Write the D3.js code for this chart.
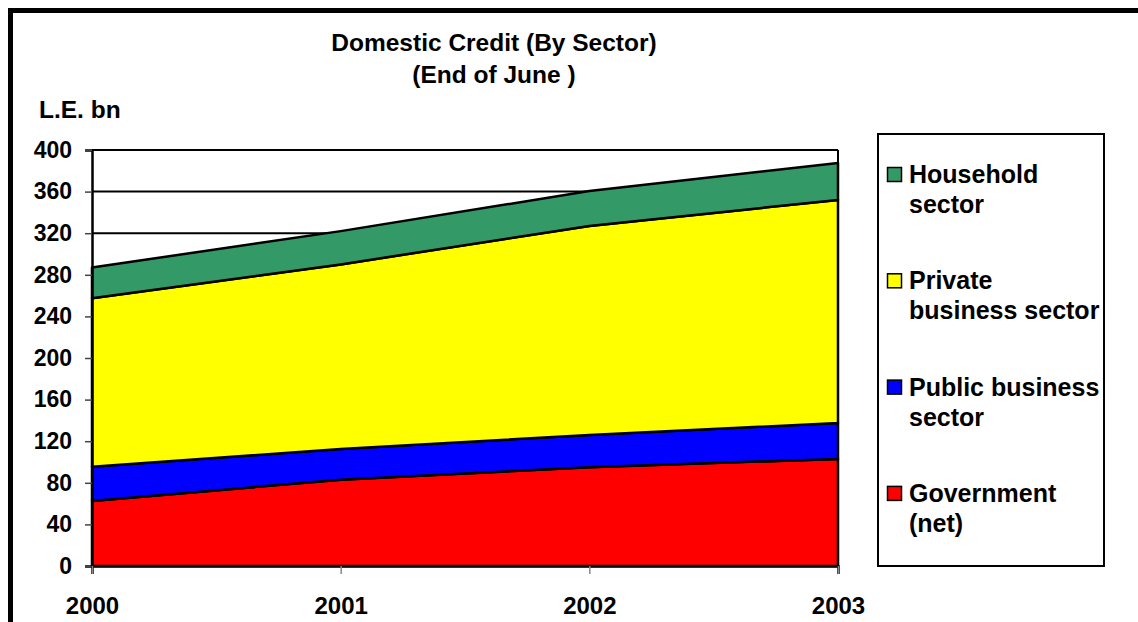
<!DOCTYPE html>
<html>
<head>
<meta charset="utf-8">
<script src="https://cdn.jsdelivr.net/npm/d3@7"></script>
<style>
  html, body { margin: 0; padding: 0; background: #fff; }
  svg { display: block; }
  text { font-family: "Liberation Sans", Arial, sans-serif; font-weight: bold; fill: #000; }
</style>
</head>
<body>
<svg id="chart" width="1138" height="622"></svg>
<script>
// Domestic credit by sector, end of June, L.E. bn
const years = ["2000", "2001", "2002", "2003"];
const government = [62.5, 83, 95, 103];
const publicBusiness = [33, 29.5, 31, 34.5];
const privateBusiness = [162, 177.5, 201, 214.5];
const household = [29.5, 32, 33.5, 35.5];
const seriesNames = ["Government (net)", "Public business sector", "Private business sector", "Household sector"];
const seriesColors = ["#ff0000", "#0000ff", "#ffff00", "#339966"];
const legendLines = [["Household", "sector"], ["Private", "business sector"], ["Public business", "sector"], ["Government", "(net)"]];
const yTicks = [0, 40, 80, 120, 160, 200, 240, 280, 320, 360, 400];

const svg = d3.select("#chart");

// outer frame
svg.append("rect")
  .attr("x", 10.5).attr("y", 10.5)
  .attr("width", 1200).attr("height", 700)
  .attr("fill", "none").attr("stroke", "#000").attr("stroke-width", 5);

const plot = { left: 92, right: 838, top: 150, bottom: 566 };

const x = d3.scalePoint().domain(years).range([plot.left, plot.right]);
const y = d3.scaleLinear().domain([0, 400]).range([plot.bottom, plot.top]);

const rows = years.map((yr, i) => ({
  year: yr,
  g: government[i], p: publicBusiness[i], pr: privateBusiness[i], h: household[i]
}));
const keys = ["g", "p", "pr", "h"];
const stacked = d3.stack().keys(keys)(rows);

// gridlines
svg.append("g").selectAll("line")
  .data(yTicks.filter(t => t > 0))
  .join("line")
  .attr("x1", plot.left).attr("x2", plot.right)
  .attr("y1", d => y(d)).attr("y2", d => y(d))
  .attr("stroke", "#000").attr("stroke-width", 2);

// right edge of plot area
svg.append("line")
  .attr("x1", plot.right).attr("x2", plot.right)
  .attr("y1", plot.top).attr("y2", plot.bottom)
  .attr("stroke", "#000").attr("stroke-width", 2);

const area = d3.area()
  .x(d => x(d.data.year))
  .y0(d => y(d[0]))
  .y1(d => y(d[1]));

svg.append("g").selectAll("path")
  .data(stacked)
  .join("path")
  .attr("d", area)
  .attr("fill", (d, i) => seriesColors[i])
  .attr("stroke", "#000")
  .attr("stroke-width", 2.5)
  .attr("stroke-linejoin", "round");

// y axis
const yAxis = svg.append("g")
  .attr("transform", `translate(${plot.left},0)`)
  .call(d3.axisLeft(y).tickValues(yTicks).tickSize(7).tickPadding(13));
yAxis.select(".domain").attr("stroke", "#000").attr("stroke-width", 2.5);
yAxis.selectAll(".tick line").attr("stroke", "#444").attr("stroke-width", 1.5);
yAxis.selectAll(".tick text")
  .style("font-family", "'Liberation Sans', Arial, sans-serif")
  .style("font-weight", "bold").style("font-size", "23px").attr("fill", "#000");

// x axis
const xAxis = svg.append("g")
  .attr("transform", `translate(0,${plot.bottom})`)
  .call(d3.axisBottom(x).tickSize(8).tickPadding(23));
xAxis.select(".domain").attr("stroke", "#000").attr("stroke-width", 2.5);
xAxis.selectAll(".tick line").attr("stroke", "#888").attr("stroke-width", 1.5);
xAxis.selectAll(".tick text")
  .style("font-family", "'Liberation Sans', Arial, sans-serif")
  .style("font-weight", "bold").style("font-size", "24px").attr("fill", "#000");

// titles
svg.append("text").attr("x", 494).attr("y", 51).attr("text-anchor", "middle")
  .style("font-size", "24.5px").text("Domestic Credit (By Sector)");
svg.append("text").attr("x", 494).attr("y", 83).attr("text-anchor", "middle")
  .style("font-size", "24.5px").text("(End of June )");
svg.append("text").attr("x", 39).attr("y", 118)
  .style("font-size", "24.5px").text("L.E. bn");

// legend
svg.append("rect")
  .attr("x", 878).attr("y", 134).attr("width", 226).attr("height", 432)
  .attr("fill", "#fff").attr("stroke", "#000").attr("stroke-width", 2);

const legendOrder = [3, 2, 1, 0];
const legend = svg.append("g").selectAll("g")
  .data(legendOrder)
  .join("g")
  .attr("transform", (d, i) => `translate(0,${167 + i * 106.3})`);
legend.append("rect")
  .attr("x", 887.5).attr("y", 0.5).attr("width", 14).attr("height", 14)
  .attr("fill", d => seriesColors[d]).attr("stroke", "#000").attr("stroke-width", 1.5);
legend.each(function (d, i) {
  const t = d3.select(this).append("text").attr("x", 909).attr("y", 16)
    .style("font-size", "25px");
  legendLines[i].forEach((ln, j) => {
    t.append("tspan").attr("x", 909).attr("dy", j === 0 ? 0 : 30).text(ln);
  });
});
</script>
</body>
</html>
